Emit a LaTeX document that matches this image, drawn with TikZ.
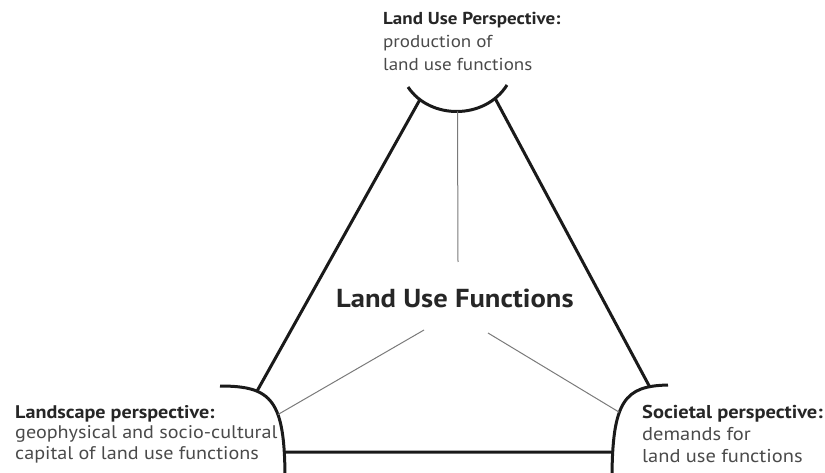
\documentclass[tikz,border=0pt]{standalone}
\usepackage{fontspec}
\setmainfont{PT Sans}[FakeStretch=1.1]
\definecolor{boldtxt}{HTML}{262626}
\definecolor{regtxt}{HTML}{4A4A4A}
\definecolor{thickln}{HTML}{1A1A1A}
\definecolor{thinln}{HTML}{7A7A7A}
\begin{document}
\begin{tikzpicture}[x=1pt,y=-1pt,
  thickline/.style={draw=thickln,line width=3pt},
  thinline/.style={draw=thinln,line width=1pt},
  persp/.style={inner sep=0pt,anchor=base west,align=left,text=regtxt}]
\useasboundingbox (0,0) rectangle (825,473);
% arcs
\draw[thickline] (408,87) .. controls (430,120) and (485,120) .. (507,85)
  coordinate[pos=0.15] (tl) coordinate[pos=0.5] (tm) coordinate[pos=0.85] (tr);
\draw[thickline] (220,386) .. controls (272,386) and (285,400) .. (285,480)
  coordinate[pos=0.3] (lt) coordinate[pos=0.62] (lm) coordinate[pos=0.87] (lb);
\draw[thickline] (668,385) .. controls (625,386) and (612,400) .. (612,480)
  coordinate[pos=0.16] (rt) coordinate[pos=0.6] (rm) coordinate[pos=0.87] (rb);
% triangle edges
\draw[thickline] (tl) -- (lt);
\draw[thickline] (tr) -- (rt);
\draw[thickline] (lb) -- (rb);
% centre
\node[inner sep=0pt,anchor=base west,text=boldtxt,font=\bfseries\fontsize{26}{30}\selectfont] (luf) at (336,308) {Land Use Functions};
\coordinate (cv) at (458,262);
\coordinate (cl) at (424,330);
\coordinate (cr) at (488,333);
\draw[thinline] (tm) -- (cv);
\draw[thinline] (cl) -- (lm);
\draw[thinline] (cr) -- (rm);
% texts (anchor = baseline of last line)
\node[persp,font=\fontsize{17.3}{23}\selectfont] (top) at (383,71)
  {{\color{boldtxt}\bfseries Land Use Perspective:}\\production of\\land use functions};
\node[persp,font=\fontsize{18.3}{20.5}\selectfont] (left) at (15,459)
  {{\color{boldtxt}\bfseries Landscape perspective:}\\geophysical and socio-cultural\\capital of land use functions};
\node[persp,font=\fontsize{18.6}{22}\selectfont] (right) at (642,462)
  {{\color{boldtxt}\bfseries Societal perspective:}\\demands for\\land use functions};
\end{tikzpicture}
\end{document}
